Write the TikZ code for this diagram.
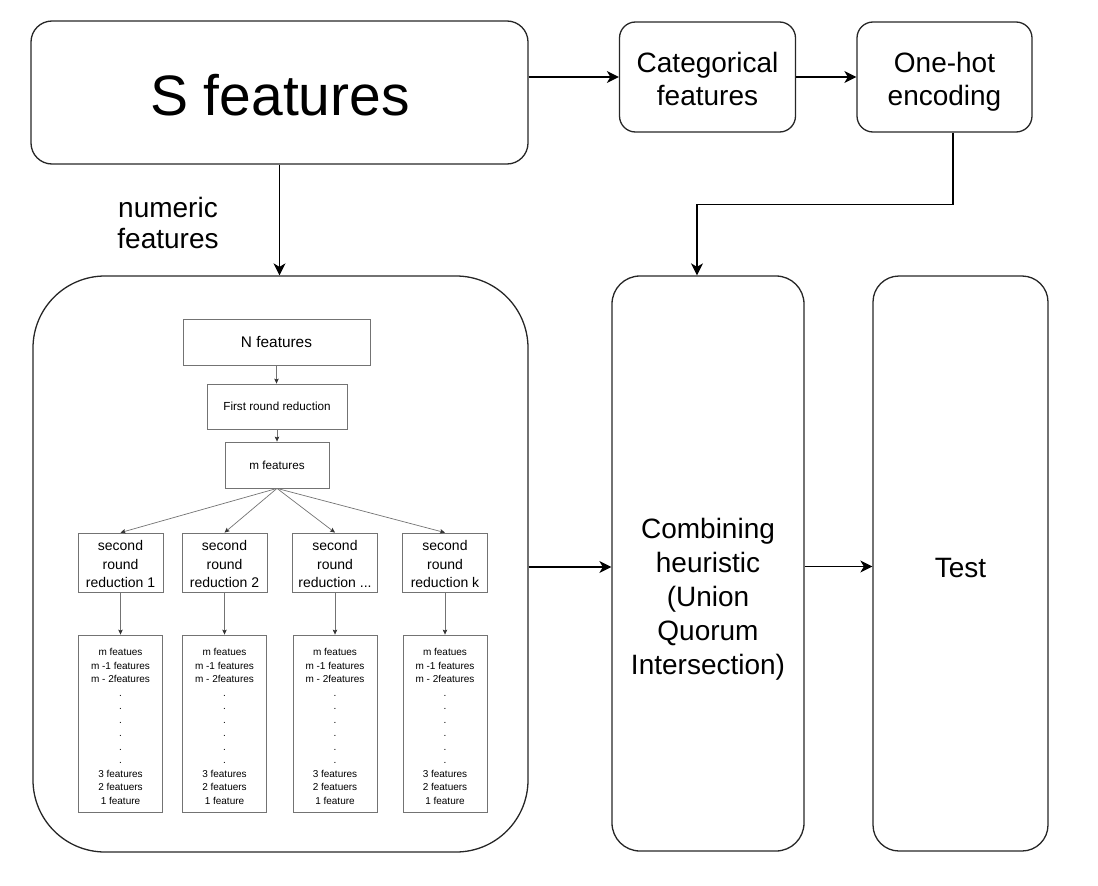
\documentclass[tikz,border=0pt]{standalone}
\usepackage{fontspec}
\setmainfont{Liberation Sans}
\usetikzlibrary{arrows.meta}
\tikzset{
  mainbox/.style={draw=black!85, line width=1.3pt, align=center, inner sep=0pt},
  arr/.style={draw=black, line width=1.3pt, -{Stealth[length=12pt,width=12pt,inset=3.5pt]}},
  inbox/.style={draw=black!55, line width=0.8pt, align=center, inner sep=0pt},
  inarr/.style={draw=black!55, line width=0.7pt, -{Stealth[length=5pt,width=4.5pt,inset=1pt,color=black!80]}},
  bigfont/.style={font=\fontsize{28}{33}\selectfont},
  secfont/.style={font=\fontsize{14}{18.5}\selectfont},
  listfont/.style={font=\fontsize{10}{13.5}\selectfont},
  txt/.style={align=center, inner sep=0pt},
}
\newcommand\threedotlab{...}
\begin{document}
\begin{tikzpicture}[x=1pt,y=-1pt]
\useasboundingbox (0,0) rectangle (1098,886);
% top row
\node[mainbox, rounded corners=21pt, minimum width=497pt, minimum height=143pt] (S) at (279.5,92.5) {};
\node[txt, font=\fontsize{57}{60}\selectfont] (Stext) at (280,95) {S features};
\node[mainbox, rounded corners=16pt, minimum width=176pt, minimum height=110pt] (cat) at (707.5,77) {};
\node[txt, bigfont] (cattext) at (707.5,82) {\strut Categorical\\features\strut};
\node[mainbox, rounded corners=16pt, minimum width=175pt, minimum height=110pt] (oh) at (944.5,77) {};
\node[txt, bigfont] (ohtext) at (944.5,82) {\strut One-hot\\encoding\strut};
% lower row
\node[mainbox, rounded corners=72pt, minimum width=495pt, minimum height=576pt] (big) at (280.5,564) {};
\node[mainbox, rounded corners=28pt, minimum width=192pt, minimum height=575pt] (comb) at (708,563.5) {};
\node[txt, font=\fontsize{28}{34}\selectfont] (combtext) at (708,599.5) {\strut Combining\\heuristic\\(Union\\Quorum\\Intersection)\strut};
\node[mainbox, rounded corners=26pt, minimum width=175pt, minimum height=575pt] (test) at (960.5,563.5) {};
\node[txt, bigfont] (testtext) at (960.5,571) {\strut Test};
\node[txt, font=\fontsize{28}{31}\selectfont] (numlab) at (168,227) {\strut numeric\\features\strut};
% main connectors
\draw[arr] (S.east |- cat.west) -- (cat.west);
\draw[arr] (cat.east) -- (oh.west);
\draw[arr] ([xshift=8.5pt]oh.south) -- ++(0,72) -| ([xshift=-11pt]comb.north);
\draw[arr] (S.south) -- (S.south |- big.north);
\draw[arr] ([yshift=-3pt]big.east) -- ([yshift=-3pt]big.east -| comb.west);
\draw[arr] ([yshift=-3pt]comb.east) -- ([yshift=-3pt]comb.east -| test.west);
% inner diagram
\node[inbox, minimum width=187pt, minimum height=46pt, font=\fontsize{15.4}{18}\selectfont] (N) at (276.5,342) {N features};
\node[inbox, minimum width=140pt, minimum height=45pt, font=\fontsize{11.7}{14}\selectfont] (fr) at (277,406.5) {First round reduction};
\node[inbox, minimum width=104pt, minimum height=46pt, font=\fontsize{11.7}{14}\selectfont] (m) at (277,465) {m features};
\draw[inarr] (N.south) -- (N.south |- fr.north);
\draw[inarr] (fr.south) -- (fr.south |- m.north);
\foreach \i/\x/\lab in {1/120.5/1, 2/224.5/2, 3/335/\threedotlab, 4/445/k}{
  \node[inbox, minimum width=85pt, minimum height=59pt] (s\i) at (\x,562.5) {};
  \node[txt, secfont] (st\i) at (\x,565.5) {\strut second\\round\\reduction \lab\strut};
  \node[inbox, minimum width=84pt, minimum height=177pt] (l\i) at (\x,723.5) {};
  \node[txt, listfont] (t\i) at (\x,727.5)
    {\strut m featues\\m -1 features\\m - 2features\\.\\.\\.\\.\\.\\.\\3 features\\2 featuers\\1 feature\strut};
  \draw[inarr] (m.south) -- (s\i.north);
  \draw[inarr] (s\i.south) -- (l\i.north);
}
\end{tikzpicture}
\end{document}
